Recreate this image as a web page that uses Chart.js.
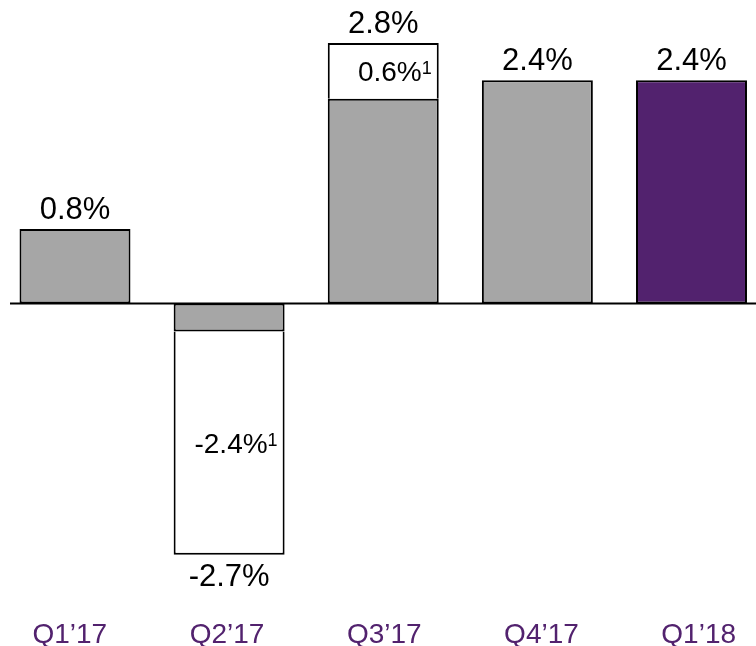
<!DOCTYPE html>
<html>
<head>
<meta charset="utf-8">
<script src="https://cdn.jsdelivr.net/npm/chart.js@4.4.0/dist/chart.umd.min.js"></script>
<style>
  html, body { margin: 0; padding: 0; background: #fff; overflow: hidden; }
  #wrap { width: 756px; height: 646px; }
  canvas { display: block; }
</style>
</head>
<body>
<div id="wrap"><canvas id="growth-chart"></canvas></div>
<script>
// quarterly growth, % (adjustment = footnote 1 part of the bar)
const quarters = ['Q1\u201917', 'Q2\u201917', 'Q3\u201917', 'Q4\u201917', 'Q1\u201918'];
const reported = [0.8, -0.3, 2.2, 2.4, null];
const adjustment = [null, -2.4, 0.6, null, null];
const current = [null, null, null, null, 2.4];

const purple = '#52226E';
const grey = '#A6A6A6';
const labelFont = '"Liberation Sans", Arial, sans-serif';

function pct(v) {
  return v.toFixed(1) + '%';
}

// zero line, value labels and the quarter labels
const valueLabels = {
  id: 'valueLabels',
  afterDatasetsDraw(chart) {
    const ctx = chart.ctx;
    const xScale = chart.scales.x;
    const yScale = chart.scales.y;
    const zero = yScale.getPixelForValue(0);

    ctx.save();
    ctx.strokeStyle = '#000';
    ctx.lineWidth = 2;
    ctx.beginPath();
    ctx.moveTo(10, zero);
    ctx.lineTo(chart.width, zero);
    ctx.stroke();

    ctx.fillStyle = '#000';
    ctx.textAlign = 'center';
    ctx.textBaseline = 'alphabetic';
    ctx.font = '31px ' + labelFont;

    quarters.forEach(function (q, i) {
      const total = (reported[i] || 0) + (adjustment[i] || 0) + (current[i] || 0);
      const x = xScale.getPixelForValue(i);
      const yPix = yScale.getPixelForValue(total);
      if (total >= 0) {
        ctx.fillText(pct(total), x, yPix - 10);
      } else {
        ctx.fillText(pct(total), x, yPix + 31);
      }
    });

    // labels inside the adjustment segments
    const meta = chart.getDatasetMeta(1);
    adjustment.forEach(function (v, i) {
      if (v === null) return;
      const el = meta.data[i];
      const right = el.x + el.width / 2 - 7;
      const mid = (el.y + el.base) / 2;
      const size = 28;
      const base = mid + size * 0.358;
      ctx.textAlign = 'right';
      ctx.font = '18px ' + labelFont;
      const supW = ctx.measureText('1').width;
      ctx.fillText('1', right, base - size * 0.716 + 18 * 0.716);
      ctx.font = size + 'px ' + labelFont;
      ctx.fillText(pct(v), right - supW, base);
    });

    // quarter labels (spread a touch wider than the bars, as in the original)
    ctx.fillStyle = purple;
    ctx.textAlign = 'center';
    ctx.font = '28px ' + labelFont;
    const midX = xScale.getPixelForValue((quarters.length - 1) / 2);
    quarters.forEach(function (q, i) {
      const x = midX + (xScale.getPixelForValue(i) - midX) * 1.02 + 1;
      ctx.fillText(q, x, chart.chartArea.bottom + 65);
    });
    ctx.restore();
  }
};

function barSet(label, data, color, skip) {
  return {
    label: label,
    data: data,
    backgroundColor: color,
    borderColor: '#000',
    borderWidth: 2,
    borderSkipped: skip,
    barPercentage: 0.72,
    categoryPercentage: 1,
    clip: false
  };
}

const ctx = document.getElementById('growth-chart').getContext('2d');
new Chart(ctx, {
  type: 'bar',
  data: {
    labels: quarters,
    datasets: [
      barSet('Reported', reported, grey, false),
      barSet('Adjustment', adjustment, '#FFFFFF', 'start'),
      barSet('Current', current, purple, false)
    ]
  },
  options: {
    responsive: true,
    maintainAspectRatio: false,
    animation: false,
    layout: { padding: { left: 75, right: 64.5, top: 15, bottom: 68 } },
    plugins: {
      legend: { display: false },
      tooltip: { enabled: false }
    },
    scales: {
      x: {
        stacked: true,
        offset: false,
        display: false
      },
      y: {
        stacked: true,
        display: false,
        min: -2.95,
        max: 3.1
      }
    }
  },
  plugins: [valueLabels]
});
</script>
</body>
</html>
